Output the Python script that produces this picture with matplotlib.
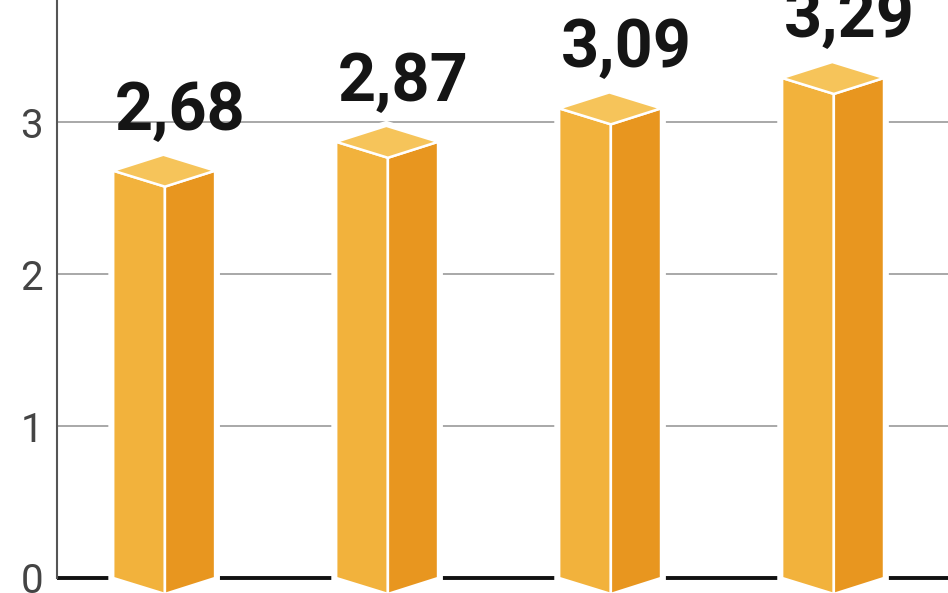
import matplotlib.pyplot as plt
from matplotlib.patches import Polygon

values = [2.68, 2.87, 3.09, 3.29]
value_labels = ["2,68", "2,87", "3,09", "3,29"]
yticks = [0, 1, 2, 3]

FRONT = "#F2B23C"
SIDE = "#E8961F"
TOP = "#F6C45A"

# bar geometry (x in slot units, y in data units)
WF = 0.232   # front face width
WS = 0.225   # side face width
D = 0.105    # slant depth


def draw_bar(ax, m, v):
    outline = [(m - WF, 0), (m, -D), (m + WS, 0), (m + WS, v),
               (m - WF + WS, v + D), (m - WF, v)]
    ax.add_patch(Polygon(outline, closed=True, facecolor="white",
                         edgecolor="white", lw=7, zorder=3))
    front = [(m - WF, 0), (m, -D), (m, v - D), (m - WF, v)]
    side = [(m, -D), (m + WS, 0), (m + WS, v), (m, v - D)]
    top = [(m - WF, v), (m, v - D), (m + WS, v), (m - WF + WS, v + D)]
    for pts, c in [(front, FRONT), (side, SIDE), (top, TOP)]:
        ax.add_patch(Polygon(pts, closed=True, facecolor=c,
                             edgecolor="white", lw=1.8, zorder=4))


def main():
    fig = plt.figure(figsize=(9.48, 5.93), dpi=100)
    ax = fig.add_axes([57 / 948, 0, 1 - 57 / 948, 1])

    x = list(range(len(values)))
    ax.set_xlim(-0.484, 3.512)
    ax.set_ylim(-0.0987, 3.803)

    for t in yticks[1:]:
        ax.axhline(t, color="#9a9a9a", lw=1.2, zorder=1)
    ax.axhline(0, color="#111111", lw=2.8, zorder=2)

    for m, v, lab in zip(x, values, value_labels):
        draw_bar(ax, m, v)
        ax.text(m + 0.07, v + 0.27, lab, ha="center", va="baseline",
                fontsize=48, fontweight="bold", family=["Roboto", "DejaVu Sans"],
                color="#151515", zorder=5)

    for s in ["top", "right", "bottom"]:
        ax.spines[s].set_visible(False)
    ax.spines["left"].set_color("#555555")
    ax.spines["left"].set_linewidth(1.5)
    ax.spines["left"].set_bounds(0, 3.803)

    ax.set_xticks([])
    ax.set_yticks(yticks)
    ax.set_yticklabels([str(t) for t in yticks], fontsize=29,
                       family=["Roboto", "DejaVu Sans"], fontweight="normal",
                       color="#444444")
    ax.tick_params(axis="y", length=0, pad=10)

    fig.savefig("out.png", dpi=100)


if __name__ == '__main__':
    main()
